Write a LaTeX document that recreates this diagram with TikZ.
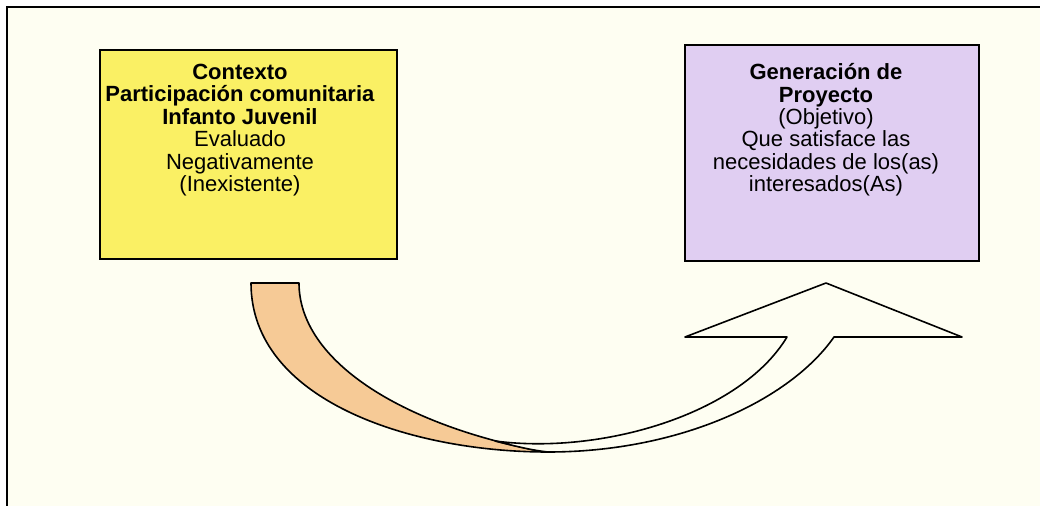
\documentclass[tikz,border=0pt]{standalone}
\usepackage{fontspec}
\setmainfont{Liberation Sans}
\definecolor{fondo}{RGB}{254,254,242}
\definecolor{amarillo}{RGB}{250,240,100}
\definecolor{lila}{RGB}{224,206,242}
\definecolor{durazno}{RGB}{246,202,150}

\begin{document}
\begin{tikzpicture}[x=0.75pt,y=-0.75pt,
  caja/.style={draw=black,line width=1.5pt,inner sep=0pt},
  texto/.style={align=center,font=\fontsize{16.5}{16.8}\selectfont},
  flecha/.style={draw=black,line width=1.2pt,line join=round}]
  \useasboundingbox (0,0) rectangle (1040,506);
  \fill[fondo] (7,7) rectangle (1040,506);
  \draw[line width=1.6pt] (7,506) -- (7,7) -- (1040,7);

  \node[caja,fill=amarillo,minimum width=222.75pt,minimum height=156.75pt] (contexto) at (248.5,154.5) {};
  \node[caja,fill=lila,minimum width=220.5pt,minimum height=162pt] (proyecto) at (832,153) {};

  \node[texto] (txtcontexto) at (240,130) {\textbf{Contexto}\\ \textbf{Participación comunitaria}\\ \textbf{Infanto Juvenil}\\ Evaluado\\ Negativamente\\ (Inexistente)};
  \node[texto] (txtproyecto) at (826,130) {\textbf{Generación de}\\ \textbf{Proyecto}\\ (Objetivo)\\ Que satisface las\\ necesidades de los(as)\\ interesados(As)};

  % cara trasera de la flecha
  \filldraw[flecha,fill=durazno] (251,283) -- (299,283) .. controls (299,360) and (400,425) .. (545,452)
    -- (548,452) .. controls (410,452) and (251,400) .. (251,283) -- cycle;
  % cara delantera con la punta
  \filldraw[flecha,fill=fondo] (548,452) .. controls (680,452) and (790,400) .. (834,337)
    -- (962,337) -- (826,283) -- (685,337) -- (787,337)
    .. controls (740,415) and (600,455) .. (495,441)
    .. controls (515,446) and (530,450) .. (548,452) -- cycle;
\end{tikzpicture}
\end{document}
